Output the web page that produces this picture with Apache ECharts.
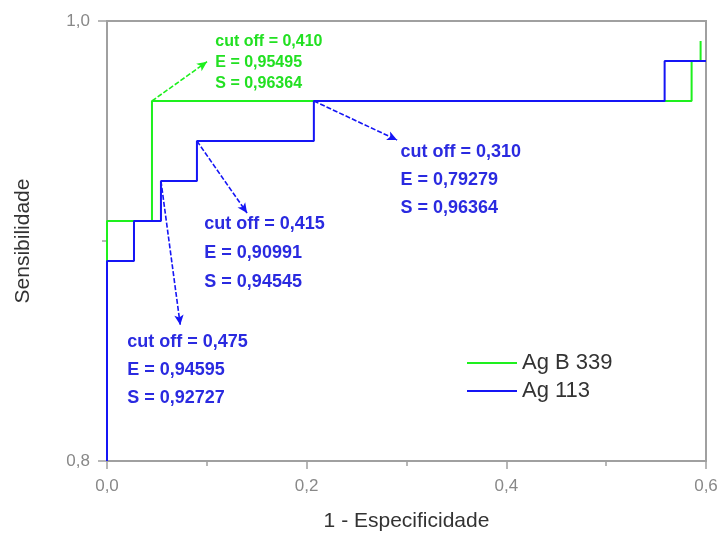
<!DOCTYPE html>
<html>
<head>
<meta charset="utf-8">
<script src="https://cdn.jsdelivr.net/npm/echarts@6/dist/echarts.min.js"></script>
<style>
  html, body { margin: 0; padding: 0; background: #fff; }
  #chart { width: 721px; height: 534px; }
</style>
</head>
<body>
<div id="chart"></div>
<script>
// curvas ROC: (1 - especificidade, sensibilidade)
const seriesNames = ['Ag B 339', 'Ag 113'];
const agB339X = [0, 0, 0.04505, 0.58559, 0.59459];
const agB339Y = [0.8, 0.90909, 0.96364, 0.98182, 0.99091];
const ag113X = [0, 0, 0.02703, 0.05405, 0.09009, 0.20721, 0.55856, 0.6];
const ag113Y = [0.8, 0.89091, 0.90909, 0.92727, 0.94545, 0.96364, 0.98182, 0.98182];
const xTicks = [0, 0.2, 0.4, 0.6];
const yTicks = [0.8, 1.0];

// pontos de corte anotados
const cutOff = ['0,410', '0,415', '0,475', '0,310'];
const espec = [0.95495, 0.90991, 0.94595, 0.79279];
const sens = [0.96364, 0.94545, 0.92727, 0.96364];
const cutCurve = [0, 1, 1, 1]; // 0 = Ag B 339, 1 = Ag 113

// onde ficam a ponta da seta e o texto (coordenadas do gráfico)
const arrowTip = [[0.1002, 0.9815], [0.1403, 0.9127], [0.0734, 0.8618], [0.2906, 0.9459]];
const textAt = [[0.1085, 0.99545], [0.0975, 0.9143], [0.0203, 0.8605], [0.2939, 0.9468]];
const textSize = [16, 18, 18, 18];
const textLine = [21, 29, 28, 28];

const colors = ['#1ef01e', '#1515f5'];
const textColors = ['#22e022', '#2a2ae0'];
const fontFamily = '"Liberation Sans", Arial, sans-serif';
const fmt = v => v.toFixed(1).replace('.', ',');
const fmt5 = v => v.toFixed(5).replace('.', ',');

const chart = echarts.init(document.getElementById('chart'));

const curves = [
    agB339X.map((x, i) => [x, agB339Y[i]]),
    ag113X.map((x, i) => [x, ag113Y[i]])
];

const series = curves.map((data, s) => ({
    name: seriesNames[s],
    type: 'line',
    step: 'end',
    symbol: 'none',
    data: data,
    z: 2 + s,
    lineStyle: {color: colors[s], width: 2},
    itemStyle: {color: colors[s]},
    markLine: {
        silent: true,
        symbol: ['none', 'arrow'],
        symbolSize: [7, 10],
        label: {show: false},
        lineStyle: {color: colors[s], width: 1.6, type: [5, 2]},
        data: cutOff
            .map((c, i) => i)
            .filter(i => cutCurve[i] === s)
            .map(i => [
                {coord: [1 - espec[i], sens[i]]},
                {coord: arrowTip[i]}
            ])
    }
}));

chart.setOption({
    animation: false,
    grid: {
        left: 107, right: 15, top: 21, bottom: 73,
        outerBoundsMode: 'none',
        show: true, borderColor: '#a0a0a0', borderWidth: 2
    },
    legend: {
        orient: 'vertical',
        left: 467, top: 352, padding: 0,
        icon: 'rect',
        itemWidth: 50, itemHeight: 2, itemGap: 6,
        data: seriesNames,
        textStyle: {fontSize: 22, color: '#333', fontFamily: fontFamily}
    },
    xAxis: {
        type: 'value',
        min: xTicks[0], max: xTicks[xTicks.length - 1], interval: 0.2,
        name: '1 - Especificidade',
        nameLocation: 'middle', nameGap: 50,
        nameTextStyle: {fontSize: 21, color: '#333', fontFamily: fontFamily},
        axisLine: {lineStyle: {color: '#a0a0a0', width: 2}},
        axisTick: {length: 8, lineStyle: {color: '#a0a0a0', width: 1.5}},
        minorTick: {show: true, splitNumber: 2, length: 5, lineStyle: {color: '#a0a0a0', width: 1.5}},
        splitLine: {show: false},
        axisLabel: {fontSize: 17, color: '#888', margin: 17, fontFamily: fontFamily, formatter: fmt}
    },
    yAxis: {
        type: 'value',
        min: yTicks[0], max: yTicks[yTicks.length - 1], interval: 0.2,
        name: 'Sensibilidade',
        nameLocation: 'middle', nameGap: 73,
        nameTextStyle: {fontSize: 21, color: '#333', fontFamily: fontFamily},
        axisLine: {show: true, lineStyle: {color: '#a0a0a0', width: 2}},
        axisTick: {show: true, length: 9, lineStyle: {color: '#a0a0a0', width: 1.5}},
        minorTick: {show: true, splitNumber: 2, length: 5, lineStyle: {color: '#a0a0a0', width: 1.5}},
        splitLine: {show: false},
        axisLabel: {fontSize: 17, color: '#888', margin: 17, fontFamily: fontFamily, formatter: fmt}
    },
    series: series
});

// textos das anotações, posicionados pela escala do gráfico
const texts = cutOff.map((c, i) => {
    const p = chart.convertToPixel({gridIndex: 0}, textAt[i]);
    return {
        type: 'text',
        x: p[0], y: p[1],
        z: 10,
        style: {
            text: 'cut off = ' + c + '\nE = ' + fmt5(espec[i]) + '\nS = ' + fmt5(sens[i]),
            fill: textColors[cutCurve[i]],
            font: 'bold ' + textSize[i] + 'px ' + fontFamily,
            lineHeight: textLine[i],
            align: 'left',
            verticalAlign: 'top'
        }
    };
});

chart.setOption({graphic: texts});
</script>
</body>
</html>
